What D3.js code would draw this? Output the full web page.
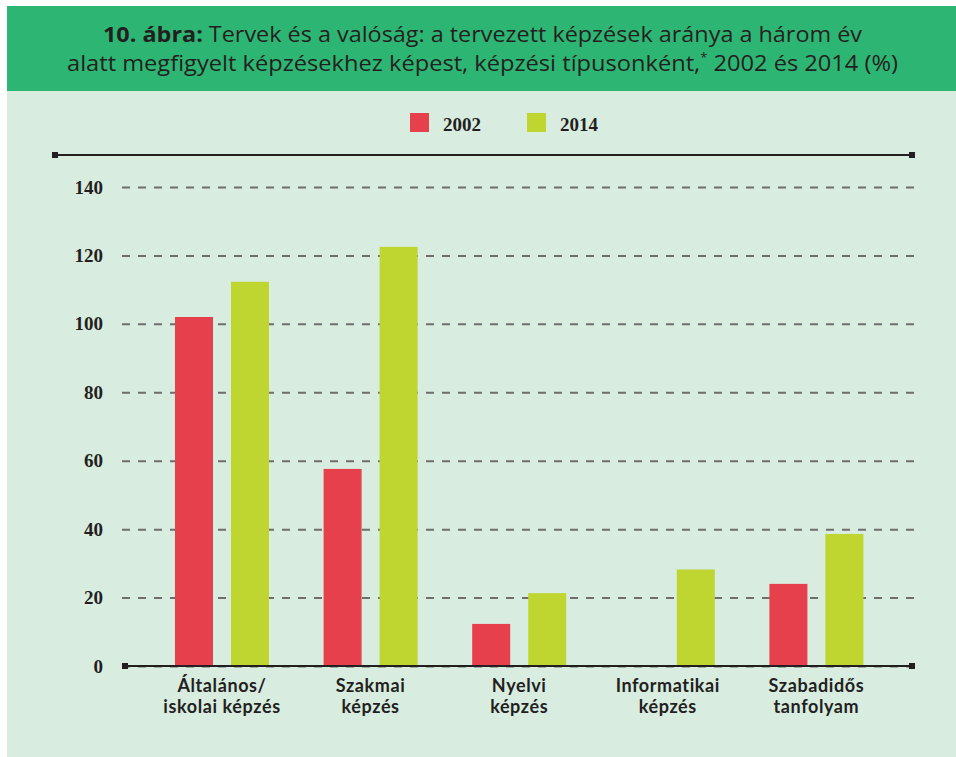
<!DOCTYPE html>
<html>
<head>
<meta charset="utf-8">
<script src="https://cdn.jsdelivr.net/npm/d3@7"></script>
<style>
  body { margin: 0; background: #fff; }
  svg { display: block; }
</style>
</head>
<body>
<div id="chart"></div>
<script>
// data
var categories = [
  ["Általános/", "iskolai képzés"],
  ["Szakmai", "képzés"],
  ["Nyelvi", "képzés"],
  ["Informatikai", "képzés"],
  ["Szabadidős", "tanfolyam"]
];
var seriesNames = ["2002", "2014"];
var values2002 = [102, 57.6, 12.3, null, 24];
var values2014 = [112.3, 122.5, 21.3, 28.2, 38.6];
var yTicks = [0, 20, 40, 60, 80, 100, 120, 140];

var colors = { "2002": "#e5404c", "2014": "#bed62f" };
var dark = "#231f20";

var W = 956, H = 757;
var svg = d3.select("#chart").append("svg")
  .attr("width", W)
  .attr("height", H);

// panel + header
svg.append("rect").attr("x", 7).attr("y", 6).attr("width", W - 7).attr("height", H - 6)
  .attr("fill", "#d8ece0");
svg.append("rect").attr("x", 7).attr("y", 6).attr("width", W - 7).attr("height", 85)
  .attr("fill", "#2db673");

var t1 = svg.append("text")
  .attr("x", 103).attr("y", 42)
  .attr("textLength", 759).attr("lengthAdjust", "spacingAndGlyphs")
  .attr("font-family", "'Open Sans', 'Noto Sans', sans-serif")
  .attr("font-size", 22).attr("fill", dark);
t1.append("tspan").attr("font-weight", "bold").text("10. ábra:");
t1.append("tspan").text(" Tervek és a valóság: a tervezett képzések aránya a három év");

var t2 = svg.append("text")
  .attr("x", 67).attr("y", 71)
  .attr("textLength", 831).attr("lengthAdjust", "spacingAndGlyphs")
  .attr("font-family", "'Open Sans', 'Noto Sans', sans-serif")
  .attr("font-size", 22).attr("fill", dark);
t2.append("tspan").text("alatt megfigyelt képzésekhez képest, képzési típusonként,");
t2.append("tspan").attr("font-size", 12).attr("dy", -9).text("*");
t2.append("tspan").attr("dy", 9).text(" 2002 és 2014 (%)");

// scales
var y = d3.scaleLinear().domain([0, 140]).range([666, 187]);
var x = d3.scaleBand().domain(d3.range(categories.length)).range([147.7, 890.7]).padding(0);
var xInner = d3.scaleBand().domain(seriesNames).range([-47, 47]).paddingInner(18 / 56).paddingOuter(0);

// top rule
svg.append("line").attr("x1", 55).attr("x2", 912).attr("y1", 155).attr("y2", 155)
  .attr("stroke", dark).attr("stroke-width", 2);
svg.append("rect").attr("x", 52).attr("y", 152).attr("width", 6).attr("height", 6).attr("fill", dark);
svg.append("rect").attr("x", 909).attr("y", 152).attr("width", 6).attr("height", 6).attr("fill", dark);

// legend
var legend = svg.append("g");
var legX = [410, 527];
seriesNames.forEach(function(s, i) {
  legend.append("rect").attr("x", legX[i]).attr("y", 113).attr("width", 19).attr("height", 19)
    .attr("fill", colors[s]);
  legend.append("text").attr("x", legX[i] + 33).attr("y", 131)
    .attr("font-family", "'Liberation Serif', 'DejaVu Serif', serif")
    .attr("font-weight", "bold").attr("font-size", 19).attr("fill", dark)
    .text(s);
});

// y axis with dashed grid
var yAxis = svg.append("g")
  .attr("transform", "translate(122,0)")
  .call(d3.axisLeft(y).tickValues(yTicks).tickSize(-(915 - 122)).tickPadding(19));
yAxis.select(".domain").remove();
yAxis.selectAll(".tick line")
  .attr("stroke", "#6d6e6d").attr("stroke-width", 2).attr("stroke-dasharray", "8,8");
yAxis.selectAll(".tick text")
  .attr("font-family", "'Liberation Serif', 'DejaVu Serif', serif")
  .attr("font-weight", "bold").attr("font-size", 19).attr("fill", dark);

// bars
var rows = categories.map(function(c, i) {
  return [{ s: "2002", v: values2002[i] }, { s: "2014", v: values2014[i] }];
});
var groups = svg.selectAll(".grp").data(rows).enter().append("g")
  .attr("class", "grp")
  .attr("transform", function(d, i) { return "translate(" + (x(i) + x.bandwidth() / 2) + ",0)"; });
groups.selectAll("rect").data(function(d) { return d.filter(function(e) { return e.v != null; }); })
  .enter().append("rect")
  .attr("x", function(d) { return xInner(d.s); })
  .attr("width", xInner.bandwidth())
  .attr("y", function(d) { return y(d.v); })
  .attr("height", function(d) { return y(0) - y(d.v); })
  .attr("fill", function(d) { return colors[d.s]; });

// x axis line
svg.append("line").attr("x1", 124).attr("x2", 912).attr("y1", y(0)).attr("y2", y(0))
  .attr("stroke", dark).attr("stroke-width", 2);
svg.append("rect").attr("x", 122).attr("y", y(0) - 3).attr("width", 6).attr("height", 6).attr("fill", dark);
svg.append("rect").attr("x", 909).attr("y", y(0) - 3).attr("width", 6).attr("height", 6).attr("fill", dark);

// category labels
var labels = svg.selectAll(".cat").data(categories).enter().append("text")
  .attr("class", "cat")
  .attr("text-anchor", "middle")
  .attr("font-family", "Lato, 'Open Sans', sans-serif")
  .attr("font-weight", "bold").attr("font-size", 18).attr("letter-spacing", 0.6)
  .attr("fill", dark);
labels.each(function(d, i) {
  var cx = x(i) + x.bandwidth() / 2;
  d3.select(this).selectAll("tspan").data(d).enter().append("tspan")
    .attr("x", cx)
    .attr("y", function(l, j) { return 692 + j * 21; })
    .text(function(l) { return l; });
});
</script>
</body>
</html>
